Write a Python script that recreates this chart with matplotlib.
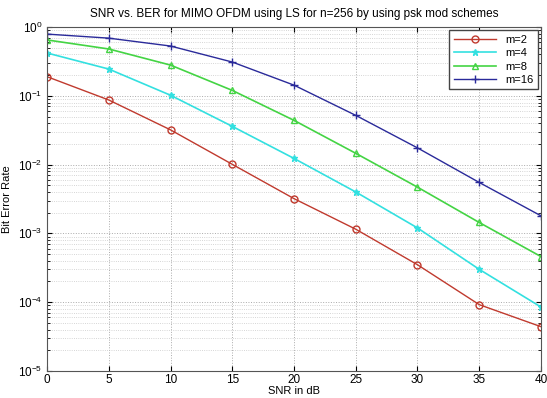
import matplotlib
matplotlib.use("Agg")
import matplotlib.pyplot as plt
from matplotlib.ticker import LogLocator, NullFormatter

snr = [0, 5, 10, 15, 20, 25, 30, 35, 40]
ber_m2 = [0.19, 0.087, 0.032, 0.0101, 0.0032, 0.00115, 0.00035, 9.2e-5, 4.4e-5]
ber_m4 = [0.42, 0.245, 0.102, 0.036, 0.0123, 0.0040, 0.0012, 3.0e-4, 8.5e-5]
ber_m8 = [0.65, 0.48, 0.28, 0.12, 0.044, 0.0146, 0.0047, 0.00144, 4.6e-4]
ber_m16 = [0.79, 0.69, 0.53, 0.31, 0.143, 0.052, 0.0175, 0.0055, 0.0018]
labels = ["m=2", "m=4", "m=8", "m=16"]

plt.rcParams['font.family'] = ['Liberation Sans', 'DejaVu Sans']
fig = plt.figure(figsize=(5.47, 3.98), dpi=100)
ax = fig.add_axes([0.086, 0.068, 0.903, 0.864])

ax.semilogy(snr, ber_m2, color='#c03a2e', marker='o', mfc='none', ms=5, lw=1.0, label=labels[0])
ax.semilogy(snr, ber_m4, color='#33e0e0', marker='*', ms=5, lw=1.2, label=labels[1])
ax.semilogy(snr, ber_m8, color='#44d444', marker='^', mfc='none', ms=5, lw=1.2, label=labels[2])
ax.semilogy(snr, ber_m16, color='#2a2a9a', marker='+', ms=6, lw=1.0, label=labels[3])

ax.set_xlim(0, 40)
ax.set_ylim(1e-5, 1)
ax.set_xticks(snr)
ax.yaxis.set_major_locator(LogLocator(base=10, numticks=10))
ax.yaxis.set_minor_locator(LogLocator(base=10, subs=range(2, 10), numticks=10))
ax.yaxis.set_minor_formatter(NullFormatter())
ax.grid(True, which='major', linestyle=':', color='#aaaaaa', lw=0.7)
ax.grid(True, which='minor', linestyle=':', color='#c8c8c8', lw=0.6)
ax.tick_params(labelsize=8.5, direction='in', which='both', top=True, right=True)
ax.tick_params(axis='x', pad=2)
for s in ax.spines.values():
    s.set_color('#555555')
ax.set_xlabel("SNR in dB", fontsize=8, labelpad=0)
ax.set_ylabel("Bit Error Rate", fontsize=8)
ax.set_title("SNR vs. BER for MIMO OFDM using LS for n=256 by using psk mod schemes", fontsize=8.5, pad=7)
leg = ax.legend(loc='upper right', fontsize=8, fancybox=False, edgecolor='#444444', framealpha=1,
                handlelength=3.8, borderpad=0.4, labelspacing=0.3, borderaxespad=0.3)
fig.savefig("out.png", dpi=100)
